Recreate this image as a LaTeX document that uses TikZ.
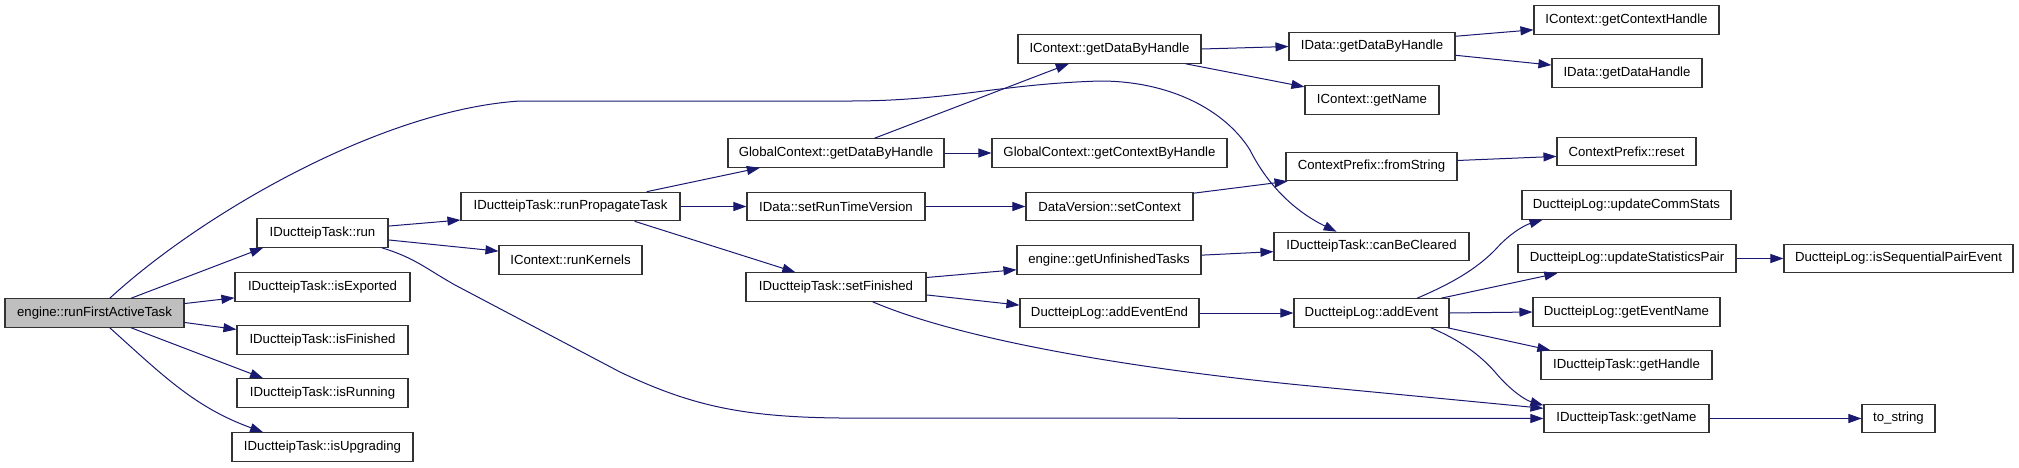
\documentclass[tikz,border=0pt]{standalone}
\usepackage{fontspec}
\setmainfont{Liberation Sans}
\usetikzlibrary{arrows.meta}

\begin{document}
\begin{tikzpicture}[x=1pt,y=-1pt,
		fn/.style={draw=black!80,line width=1.1pt,fill=white,minimum height=28.5pt,inner sep=0pt,font=\fontsize{13.2}{15}\selectfont},
		call/.style={draw=edgeblue,line width=1pt,-{Triangle[length=13pt,width=9pt]},fill=none},
		every path/.append style={}]
		\definecolor{edgeblue}{rgb}{0.098,0.098,0.439}
		\useasboundingbox (0,0) rectangle (2019,467);
		\node[fn,fill=black!25,minimum width=179pt] (engine) at (94.5,313) {engine::runFirstActiveTask};
		\node[fn,minimum width=131pt] (run) at (322.5,233) {IDuctteipTask::run};
		\node[fn,minimum width=175pt] (isexp) at (322.5,287) {IDuctteipTask::isExported};
		\node[fn,minimum width=171pt] (isfin) at (322.5,340) {IDuctteipTask::isFinished};
		\node[fn,minimum width=171pt] (isrun) at (322.5,393) {IDuctteipTask::isRunning};
		\node[fn,minimum width=181pt] (isupg) at (322.5,447) {IDuctteipTask::isUpgrading};
		\node[fn,minimum width=219pt] (rpt) at (570.5,206.5) {IDuctteipTask::runPropagateTask};
		\node[fn,minimum width=143pt] (rk) at (570.5,260) {IContext::runKernels};
		\node[fn,minimum width=216pt] (gdbh) at (836,153) {GlobalContext::getDataByHandle};
		\node[fn,minimum width=178pt] (srtv) at (836,206.5) {IData::setRunTimeVersion};
		\node[fn,minimum width=180pt] (sf) at (836,287) {IDuctteipTask::setFinished};
		\node[fn,minimum width=183pt] (icgdbh) at (1109.5,49) {IContext::getDataByHandle};
		\node[fn,minimum width=235pt] (gcbh) at (1109.5,153) {GlobalContext::getContextByHandle};
		\node[fn,minimum width=167pt] (sc) at (1109.5,206.5) {DataVersion::setContext};
		\node[fn,minimum width=184pt] (gut) at (1109,260) {engine::getUnfinishedTasks};
		\node[fn,minimum width=179pt] (aee) at (1109.5,313) {DuctteipLog::addEventEnd};
		\node[fn,minimum width=166pt] (idgdbh) at (1372,46.5) {IData::getDataByHandle};
		\node[fn,minimum width=134pt] (icgn) at (1372,100) {IContext::getName};
		\node[fn,minimum width=171pt] (fs) at (1371.5,166.5) {ContextPrefix::fromString};
		\node[fn,minimum width=195pt] (cbc) at (1371.5,246.5) {IDuctteipTask::canBeCleared};
		\node[fn,minimum width=155pt] (ae) at (1371.5,313) {DuctteipLog::addEvent};
		\node[fn,minimum width=185pt] (gch) at (1626.5,20) {IContext::getContextHandle};
		\node[fn,minimum width=150pt] (idgdh) at (1627,73) {IData::getDataHandle};
		\node[fn,minimum width=139pt] (reset) at (1626.5,151.5) {ContextPrefix::reset};
		\node[fn,minimum width=209pt] (ucs) at (1626.5,205) {DuctteipLog::updateCommStats};
		\node[fn,minimum width=218pt] (usp) at (1627,258.5) {DuctteipLog::updateStatisticsPair};
		\node[fn,minimum width=187pt] (gen) at (1626.5,312) {DuctteipLog::getEventName};
		\node[fn,minimum width=171pt] (gh) at (1626.5,365) {IDuctteipTask::getHandle};
		\node[fn,minimum width=165pt] (gn) at (1626.5,418.5) {IDuctteipTask::getName};
		\node[fn,minimum width=229pt] (isp) at (1898.5,258.5) {DuctteipLog::isSequentialPairEvent};
		\node[fn,minimum width=73pt] (tostr) at (1898.5,418.5) {to\_string};
		\draw[call] (engine.22) -- (run.194);
		\draw[call] (engine.6) -- (isexp.187);
		\draw[call] (engine.-6) -- (isfin.173);
		\draw[call] (engine.-22) -- (isrun.166);
		\draw[call] (engine.-44) to[out=-42,in=160] (isupg.166);
		\draw[call] (engine.44) .. controls (200,215) and (380,110) .. (520,101) -- (850,101)
		   .. controls (950,101) and (1000,84) .. (1100,81)
		   .. controls (1170,81) and (1225,110) .. (1250,150)
		   .. controls (1270,190) and (1300,214) .. (cbc.157);
		\draw[call] (run.6) -- (rpt.187);
		\draw[call] (run.-6) -- (rk.173);
		\draw[call] (run.-14) .. controls (415,258) and (425,268) .. (455,285) -- (620,372)
		   .. controls (690,405) and (740,417) .. (840,418) -- (gn.west);
		\draw[call] (rpt.11) -- (gdbh.191);
		\draw[call] (rpt.east) -- (srtv.west);
		\draw[call] (rpt.-13) -- (sf.160);
		\draw[call] (gdbh.21) -- (icgdbh.200);
		\draw[call] (gdbh.east) -- (gcbh.west);
		\draw[call] (srtv.east) -- (sc.west);
		\draw[call] (sf.6) -- (gut.186);
		\draw[call] (sf.-5) -- (aee.175);
		\draw[call] (sf.-22) .. controls (950,335) and (1100,365) .. (1300,385) -- (gn.173);
		\draw[call] (icgdbh.east) -- (idgdbh.west);
		\draw[call] (icgdbh.-11) -- (icgn.169);
		\draw[call] (idgdbh.7) -- (gch.186);
		\draw[call] (idgdbh.-6) -- (idgdh.174);
		\draw[call] (sc.9) -- (fs.190);
		\draw[call] (fs.4) -- (reset.184);
		\draw[call] (gut.3) -- (cbc.183);
		\draw[call] (aee.east) -- (ae.west);
		\draw[call] (ae.18) .. controls (1460,280) and (1480,265) .. (1495,250)
		   .. controls (1510,233) and (1525,225) .. (ucs.190);
		\draw[call] (ae.12) -- (usp.192);
		\draw[call] (ae.east) -- (gen.west);
		\draw[call] (ae.-11) -- (gh.169);
		\draw[call] (ae.-14) .. controls (1460,340) and (1480,355) .. (1495,372)
		   .. controls (1510,390) and (1525,400) .. (gn.171);
		\draw[call] (usp.east) -- (isp.west);
		\draw[call] (gn.east) -- (tostr.west);
	\end{tikzpicture}
\end{document}
